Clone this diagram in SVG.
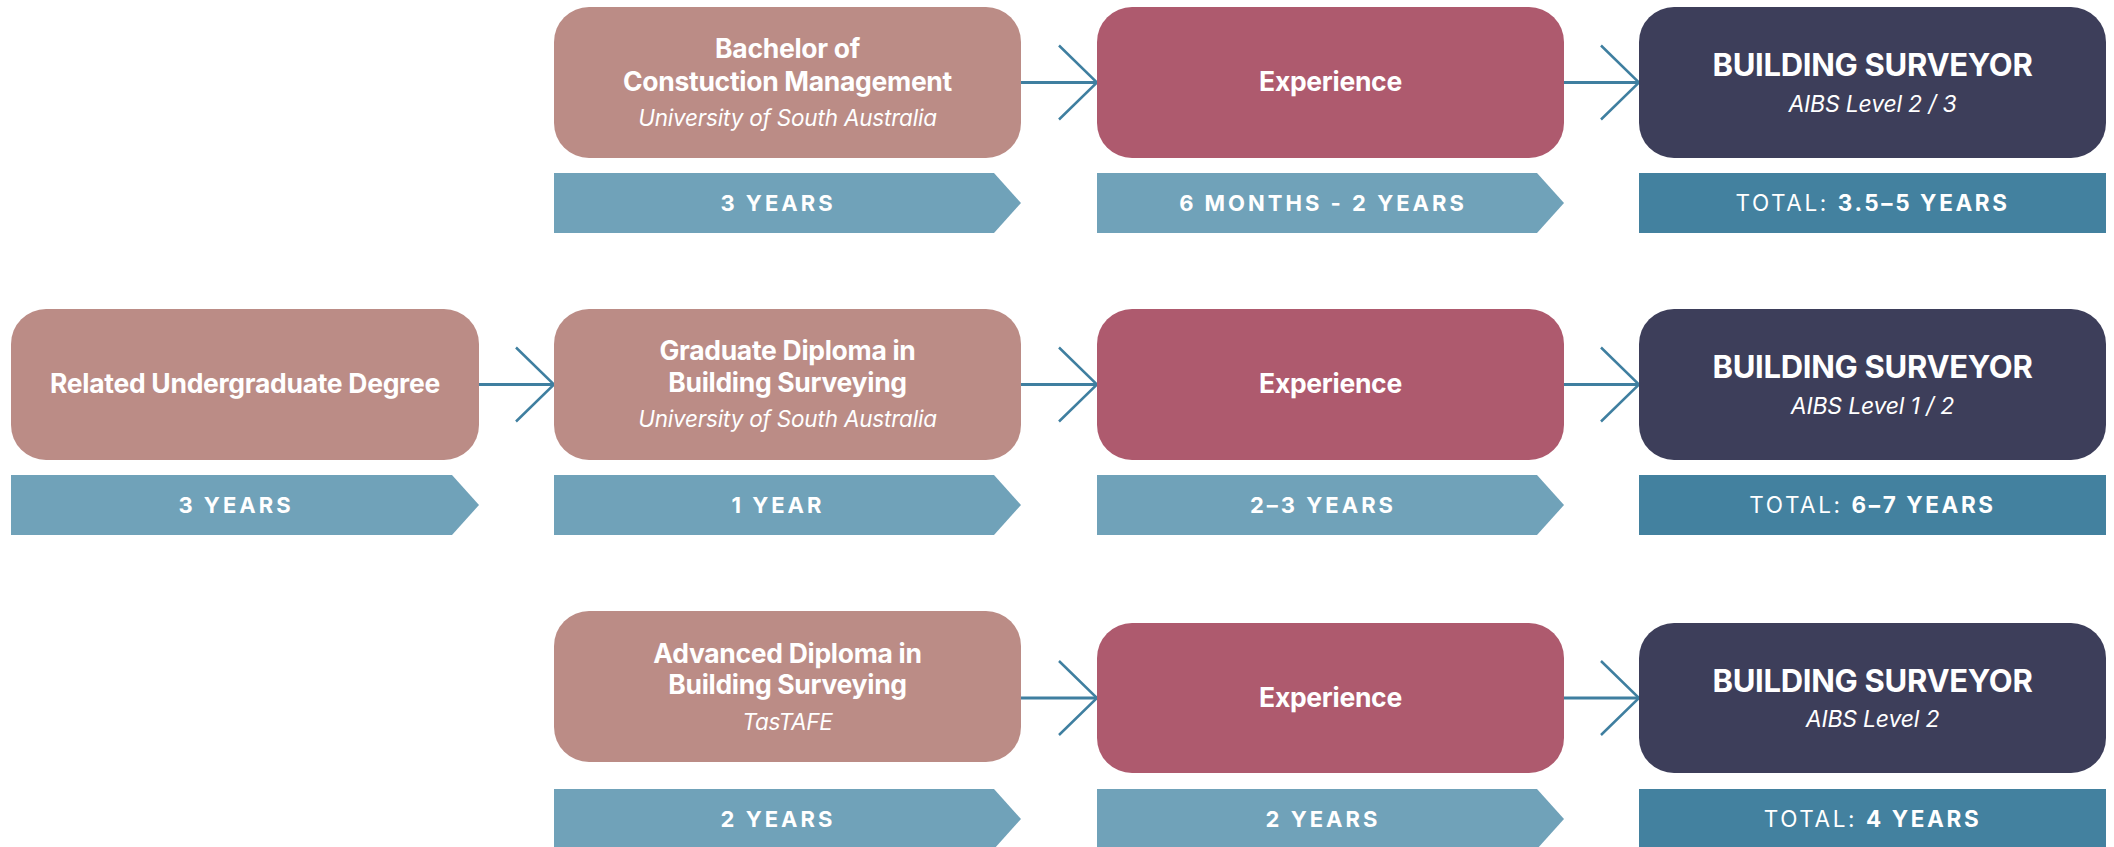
<svg xmlns="http://www.w3.org/2000/svg" width="2114" height="847" viewBox="0 0 2114 847">
<style>
.edu{fill:#bb8c86}
.exp{fill:#ae5a6e}
.bs{fill:#3d3e5a}
.bar{fill:#70a2b9}
.tot{fill:#43819f}
text{font-family:Inter,"Open Sans","Liberation Sans",sans-serif;fill:#ffffff;text-anchor:middle}
.t{font-size:26.5px;font-weight:700;letter-spacing:-0.3px}
.s{font-size:22.5px;font-style:italic;font-weight:400;letter-spacing:-0.2px}
.h{font-size:31px;font-weight:700;letter-spacing:-0.3px}
.hs{font-size:23px;font-style:italic;font-weight:400;letter-spacing:-0.2px}
.b{font-size:22px;font-weight:700;letter-spacing:3px}
.tl{font-size:22.5px;font-weight:400;letter-spacing:2.6px}
.conn line{stroke:#3f7fa0;stroke-width:3;fill:none}
.conn path{stroke:#3f7fa0;stroke-width:2.5;fill:none}
</style>
<rect width="2114" height="847" fill="#ffffff"/>

<g id="connectors" class="conn">
<line x1="1021" y1="82.5" x2="1097" y2="82.5"/><path d="M1059,45.5 L1097,82.5 L1059,119.5"/>
<line x1="1564" y1="82.5" x2="1639" y2="82.5"/><path d="M1601,45.5 L1639,82.5 L1601,119.5"/>
<line x1="479" y1="384.5" x2="554" y2="384.5"/><path d="M516,347.5 L554,384.5 L516,421.5"/>
<line x1="1021" y1="384.5" x2="1097" y2="384.5"/><path d="M1059,347.5 L1097,384.5 L1059,421.5"/>
<line x1="1564" y1="384.5" x2="1639" y2="384.5"/><path d="M1601,347.5 L1639,384.5 L1601,421.5"/>
<line x1="1021" y1="698" x2="1097" y2="698"/><path d="M1059,661 L1097,698 L1059,735"/>
<line x1="1564" y1="698" x2="1639" y2="698"/><path d="M1601,661 L1639,698 L1601,735"/>
</g>

<!-- Row 1 -->
<g id="r1-bachelor">
<rect class="edu" x="554" y="7" width="467" height="151" rx="35"/>
<text class="t" x="787.5" y="58">Bachelor of</text>
<text class="t" x="787.5" y="90.5">Constuction Management</text>
<text class="s" x="787.5" y="126">University of South Australia</text>
</g>
<g id="r1-bachelor-dur">
<path class="bar" d="M554,173 H994 L1021,203 L994,233 H554 Z"/>
<text class="b" x="778" y="211">3 YEARS</text>
</g>
<g id="r1-experience">
<rect class="exp" x="1097" y="7" width="467" height="151" rx="35"/>
<text class="t" x="1330.5" y="91">Experience</text>
</g>
<g id="r1-experience-dur">
<path class="bar" d="M1097,173 H1537 L1564,203 L1537,233 H1097 Z"/>
<text class="b" x="1323" y="211">6 MONTHS - 2 YEARS</text>
</g>
<g id="r1-surveyor">
<rect class="bs" x="1639" y="7" width="467" height="151" rx="35"/>
<text class="h" x="1872.5" y="76">BUILDING SURVEYOR</text>
<text class="hs" x="1872.5" y="112">AIBS Level 2 / 3</text>
</g>
<g id="r1-total">
<rect class="tot" x="1639" y="173" width="467" height="60"/>
<text class="tl" x="1872.5" y="211">TOTAL: <tspan font-weight="700">3.5–5 YEARS</tspan></text>
</g>

<!-- Row 2 -->
<g id="r2-undergrad">
<rect class="edu" x="11" y="309" width="468" height="151" rx="35"/>
<text class="t" x="245" y="393">Related Undergraduate Degree</text>
</g>
<g id="r2-undergrad-dur">
<path class="bar" d="M11,475 H452 L479,505 L452,535 H11 Z"/>
<text class="b" x="236" y="513">3 YEARS</text>
</g>
<g id="r2-graddip">
<rect class="edu" x="554" y="309" width="467" height="151" rx="35"/>
<text class="t" x="787.5" y="360">Graduate Diploma in</text>
<text class="t" x="787.5" y="392">Building Surveying</text>
<text class="s" x="787.5" y="427">University of South Australia</text>
</g>
<g id="r2-graddip-dur">
<path class="bar" d="M554,475 H994 L1021,505 L994,535 H554 Z"/>
<text class="b" x="778" y="513">1 YEAR</text>
</g>
<g id="r2-experience">
<rect class="exp" x="1097" y="309" width="467" height="151" rx="35"/>
<text class="t" x="1330.5" y="393">Experience</text>
</g>
<g id="r2-experience-dur">
<path class="bar" d="M1097,475 H1537 L1564,505 L1537,535 H1097 Z"/>
<text class="b" x="1323" y="513">2–3 YEARS</text>
</g>
<g id="r2-surveyor">
<rect class="bs" x="1639" y="309" width="467" height="151" rx="35"/>
<text class="h" x="1872.5" y="378">BUILDING SURVEYOR</text>
<text class="hs" x="1872.5" y="414">AIBS Level 1 / 2</text>
</g>
<g id="r2-total">
<rect class="tot" x="1639" y="475" width="467" height="60"/>
<text class="tl" x="1872.5" y="513">TOTAL: <tspan font-weight="700">6–7 YEARS</tspan></text>
</g>

<!-- Row 3 -->
<g id="r3-advdip">
<rect class="edu" x="554" y="611" width="467" height="151" rx="35"/>
<text class="t" x="787.5" y="662.5">Advanced Diploma in</text>
<text class="t" x="787.5" y="693.5">Building Surveying</text>
<text class="s" x="787.5" y="729.5">TasTAFE</text>
</g>
<g id="r3-advdip-dur">
<path class="bar" d="M554,789 H994 L1021,819 L994,849 H554 Z"/>
<text class="b" x="778" y="827">2 YEARS</text>
</g>
<g id="r3-experience">
<rect class="exp" x="1097" y="623" width="467" height="150" rx="35"/>
<text class="t" x="1330.5" y="706.5">Experience</text>
</g>
<g id="r3-experience-dur">
<path class="bar" d="M1097,789 H1537 L1564,819 L1537,849 H1097 Z"/>
<text class="b" x="1323" y="827">2 YEARS</text>
</g>
<g id="r3-surveyor">
<rect class="bs" x="1639" y="623" width="467" height="150" rx="35"/>
<text class="h" x="1872.5" y="692">BUILDING SURVEYOR</text>
<text class="hs" x="1872.5" y="727">AIBS Level 2</text>
</g>
<g id="r3-total">
<rect class="tot" x="1639" y="789" width="467" height="60"/>
<text class="tl" x="1872.5" y="827">TOTAL: <tspan font-weight="700">4 YEARS</tspan></text>
</g>
</svg>
